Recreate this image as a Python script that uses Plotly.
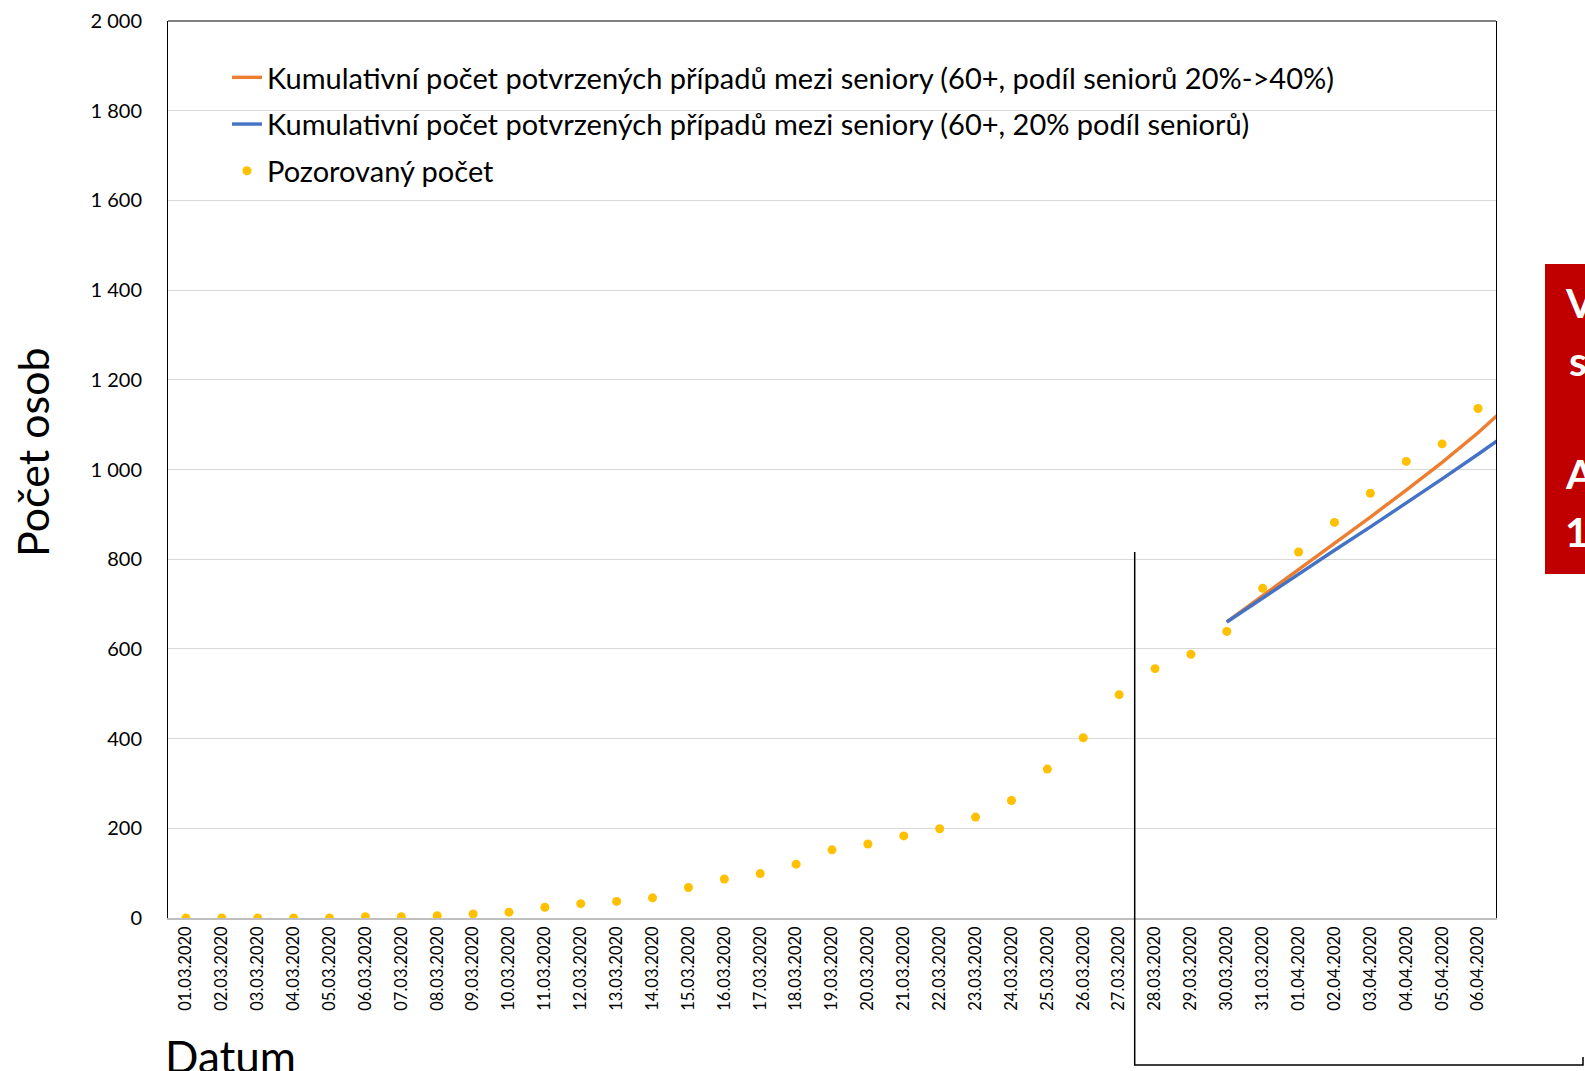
import plotly.graph_objects as go

dates = ["01.03.2020", "02.03.2020", "03.03.2020", "04.03.2020", "05.03.2020",
         "06.03.2020", "07.03.2020", "08.03.2020", "09.03.2020", "10.03.2020",
         "11.03.2020", "12.03.2020", "13.03.2020", "14.03.2020", "15.03.2020",
         "16.03.2020", "17.03.2020", "18.03.2020", "19.03.2020", "20.03.2020",
         "21.03.2020", "22.03.2020", "23.03.2020", "24.03.2020", "25.03.2020",
         "26.03.2020", "27.03.2020", "28.03.2020", "29.03.2020", "30.03.2020",
         "31.03.2020", "01.04.2020", "02.04.2020", "03.04.2020", "04.04.2020",
         "05.04.2020", "06.04.2020"]
observed = [0, 0, 0, 0, 0, 3, 3, 5, 9, 13, 24, 32, 37, 45, 68, 87, 99, 120,
            152, 165, 183, 199, 225, 262, 332, 402, 498, 556, 588, 639, 735,
            816, 882, 947, 1018, 1057, 1136]

proj_dates = ["30.03.2020", "31.03.2020", "01.04.2020", "02.04.2020", "03.04.2020",
              "04.04.2020", "05.04.2020", "06.04.2020", "07.04.2020"]
proj_shift = [660, 718, 776, 834, 894, 954, 1016, 1082, 1154]   # 20% -> 40%
proj_const = [660, 714, 767, 820, 872, 925, 979, 1034, 1090]    # 20%

name_shift = "Kumulativní počet potvrzených případů mezi seniory (60+, podíl seniorů 20%->40%)"
name_const = "Kumulativní počet potvrzených případů mezi seniory (60+, 20% podíl seniorů)"
name_obs = "Pozorovaný počet"

box_lines = ["<b>Vliv</b>", "<b>struktury</b>", "<b>Aktualizace</b>", "<b>1.4.</b>"]

FONT = "Lato, 'Open Sans', sans-serif"
W, H = 1585, 1071
L, R, T, B = 168, 89, 21, 153
pw, ph = W - L - R, H - T - B


def px(x):
    return (x - L) / pw


def py(y):
    return (H - B - y) / ph


fig = go.Figure()
fig.add_trace(go.Scatter(x=proj_dates, y=proj_shift, mode="lines", name=name_shift,
                         line=dict(color="#ED7D31", width=3.4), legendgroup="a"))
fig.add_trace(go.Scatter(x=proj_dates, y=proj_const, mode="lines", name=name_const,
                         line=dict(color="#4472C4", width=3.4), legendgroup="b"))
fig.add_trace(go.Scatter(x=dates, y=observed, mode="markers", name=name_obs,
                         marker=dict(color="#FFC000", size=9), legendgroup="c"))

fig.update_layout(
    width=W, height=H,
    margin=dict(l=L, r=R, t=T, b=B, pad=0, autoexpand=False),
    paper_bgcolor="white", plot_bgcolor="white",
    font=dict(family=FONT, color="#000000"),
    separators=", ",
    showlegend=True,
    legend=dict(x=px(227), y=py(52), xanchor="left", yanchor="top",
                font=dict(size=29, family=FONT, color="#000000"),
                bgcolor="rgba(0,0,0,0)", tracegroupgap=6,
                itemwidth=30),
)
fig.update_xaxes(
    type="category", categoryorder="array", categoryarray=dates + ["07.04.2020"],
    range=[-0.5, len(dates) - 0.5],
    tickmode="array", tickvals=dates, ticktext=dates,
    tickangle=-90, tickfont=dict(size=16.5, family=FONT, color="#000000"),
    showline=True, linecolor="#BFBFBF", linewidth=1.5, mirror=False,
    showgrid=False, ticks="", ticklabelstandoff=0, zeroline=False,
    automargin=False,
)
fig.update_yaxes(
    range=[0, 2000], dtick=200, tickformat=",d",
    tickfont=dict(size=20, family=FONT, color="#000000"),
    showline=True, linecolor="#000000", linewidth=1, mirror=True,
    showgrid=True, gridcolor="#D9D9D9", gridwidth=1, zeroline=False,
    ticks="", ticklabelstandoff=21, automargin=False,
)

shapes = [
    # top border of plot area
    dict(type="line", xref="paper", yref="paper", x0=0, x1=1, y0=1, y1=1,
         line=dict(color="#000000", width=1)),
    # bracket line (vertical + bottom)
    dict(type="path", xref="paper", yref="paper",
         path=f"M {px(1134.7)},{py(552)} L {px(1134.7)},{py(1065)} L {px(1583)},{py(1065)} L {px(1583)},{py(1057)}",
         line=dict(color="#000000", width=1.5)),
    # red box at right (cropped)
    dict(type="rect", xref="paper", yref="paper", x0=px(1545), x1=px(1620),
         y0=py(574), y1=py(264), fillcolor="#C00000", line=dict(width=0), layer="above"),
]
fig.update_layout(shapes=shapes)

annotations = [
    dict(text="Počet osob", xref="paper", yref="paper", x=px(32), y=py(452),
         xanchor="center", yanchor="middle", textangle=-90, showarrow=False,
         font=dict(size=43, family=FONT, color="#000000")),
    dict(text="Datum", xref="paper", yref="paper", x=px(163), y=py(1056),
         xanchor="left", yanchor="middle", showarrow=False,
         font=dict(size=44, family=FONT, color="#000000")),
]
for txt, yc, xl in zip(box_lines, [302, 360, 473, 531], [1563, 1567, 1563, 1563]):
    annotations.append(dict(text=txt, xref="paper", yref="paper", x=px(xl), y=py(yc),
                            xanchor="left", yanchor="middle", align="left", showarrow=False,
                            font=dict(size=41, family=FONT, color="#FFFFFF")))
fig.update_layout(annotations=annotations)

fig.write_html(
    "out.html",
    config={"displayModeBar": False},
    post_script="document.body.style.margin='0px';document.body.style.padding='0px';"
                "document.documentElement.style.overflow='hidden';",
)
